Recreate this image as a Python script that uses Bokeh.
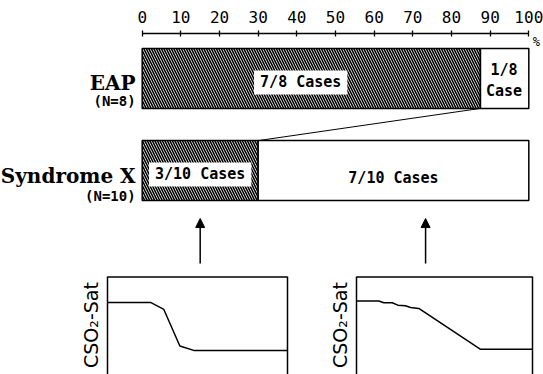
from bokeh.plotting import figure
from bokeh.models import Range1d, LinearAxis, FixedTicker, Label, Arrow, NormalHead, Span
from bokeh.layouts import column, row
from bokeh.embed import file_html
from bokeh.resources import INLINE
from bokeh.core.properties import value

# ---------------- data ----------------
groups = ["EAP", "Syndrome X"]
n_patients = [8, 10]
cases_hatched = [7, 3]          # cases in hatched segment
group_y = [1, 0]
tick_values = [0, 10, 20, 30, 40, 50, 60, 70, 80, 90, 100]

# CSO2-Sat traces (relative time %, relative saturation units)
t_left = [0, 23.9, 31.3, 40.2, 47.9, 100]
s_left = [73.9, 73.9, 66.7, 29.2, 24.7, 24.7]
t_right = [0, 12.7, 15.5, 20.3, 23.5, 27.8, 30.7, 35.4, 70.5, 100]
s_right = [75.3, 75.3, 73.5, 73.5, 71.1, 70.4, 68.7, 67.7, 25.8, 25.8]

pct = [c / n * 100 for c, n in zip(cases_hatched, n_patients)]
bar_h = 0.65
MONO = "DejaVu Sans Mono"

# ---------------- main figure ----------------
p = figure(width=543, height=275,
           x_range=Range1d(-36.65, 103.8), y_range=Range1d(-1.141, 1.489),
           x_axis_location="above", y_axis_location=None,
           output_backend="svg", toolbar_location=None,
           min_border_top=33, min_border_left=0, min_border_right=0, min_border_bottom=0,
           outline_line_color=None)
p.grid.visible = False
ax = p.xaxis[0]
ax.ticker = FixedTicker(ticks=tick_values)
ax.bounds = (0, 100)
ax.major_tick_in = 3
ax.major_tick_out = 3
ax.minor_tick_in = 0
ax.minor_tick_out = 0
ax.axis_line_width = 1.3
ax.major_tick_line_width = 1.3
ax.major_label_text_font = MONO
ax.major_label_text_font_size = "16px"
ax.major_label_standoff = 8
ax.major_label_text_color = "black"

# hatched segments
p.hbar(y=group_y, left=0, right=pct, height=bar_h,
       fill_color="white", hatch_pattern="\\", hatch_color="black",
       hatch_scale=5, hatch_weight=1.6, line_color="black", line_width=1.5)
# open segments
p.hbar(y=group_y, left=pct, right=100, height=bar_h,
       fill_color="white", line_color="black", line_width=1.5)

# connector from EAP hatched end to Syndrome X hatched end
p.segment(x0=[pct[0]], y0=[group_y[0] - bar_h / 2],
          x1=[pct[1]], y1=[group_y[1] + bar_h / 2],
          line_color="black", line_width=1)

# group labels
p.text(x=[-1.7, -1.7], y=[group_y[0] - 0.054, group_y[1] - 0.065], text=groups,
       text_align="right", text_baseline="middle",
       text_font=value("DejaVu Serif"), text_font_style="bold",
       text_font_size="20px", text_color="black")
p.text(x=[-1.7, -1.7], y=[group_y[0] - 0.25, group_y[1] - 0.272],
       text=[f"(N={n})" for n in n_patients],
       text_align="right", text_baseline="middle",
       text_font=value(MONO), text_font_style="bold",
       text_font_size="14px", text_color="black")

# in-bar labels
def add_label(x, y, txt, bg=False):
    kw = dict(x=x, y=y, text=txt, text_align="center", text_baseline="middle",
              text_font=MONO, text_font_size="15px", text_font_style="bold",
              text_color="black")
    if bg:
        kw.update(background_fill_color="white",
                  padding=dict(left=6, right=6, top=3, bottom=3))
    p.add_layout(Label(**kw))

add_label(41.0, group_y[0] - 0.043, f"{cases_hatched[0]}/{n_patients[0]} Cases", bg=True)
add_label(93.6, group_y[0] + 0.087, f"{n_patients[0]-cases_hatched[0]}/{n_patients[0]}")
add_label(93.6, group_y[0] - 0.141, "Case")
add_label(pct[1] / 2, group_y[1] - 0.043, f"{cases_hatched[1]}/{n_patients[1]} Cases", bg=True)
add_label((pct[1] + 100) / 2, group_y[1] - 0.076,
          f"{n_patients[1]-cases_hatched[1]}/{n_patients[1]} Cases")
p.add_layout(Label(x=101.0, y=1.40, text="%", text_align="left", text_baseline="middle",
                   text_font=MONO, text_font_size="12px", text_color="black"))

# arrows
arrow_x = [15, 73.3]
for xa in arrow_x:
    p.add_layout(Arrow(end=NormalHead(size=9, fill_color="black", line_color="black"),
                       x_start=xa, y_start=-1.011, x_end=xa, y_end=-0.522,
                       line_color="black", line_width=1.5))

# ---------------- small traces ----------------
def mini(t, s, width, left, right):
    f = figure(width=width, height=99, x_range=Range1d(0, 100), y_range=Range1d(0, 101.5),
               x_axis_location=None, y_axis_location=None,
               output_backend="svg", toolbar_location=None,
               min_border_left=left, min_border_right=right,
               min_border_top=0, min_border_bottom=0, outline_line_color=None)
    f.grid.visible = False
    f.line(t, s, line_color="black", line_width=1.5)
    f.add_layout(Span(location=100, dimension="width", line_color="black", line_width=1.5))
    for loc in ["left", "right"]:
        a = LinearAxis(ticker=FixedTicker(ticks=[]), major_tick_in=0, major_tick_out=0,
                       minor_tick_in=0, minor_tick_out=0, major_label_text_font_size="0px",
                       major_label_standoff=0, axis_line_width=1.5, axis_line_color="black",
                       bounds=(0, 100))
        if loc == "left":
            a.axis_label = "CSO\u2082-Sat"
            a.axis_label_text_font = "DejaVu Sans"
            a.axis_label_text_font_size = "19px"
            a.axis_label_text_font_style = "normal"
            a.axis_label_text_color = "black"
            a.axis_label_standoff = 6
        f.add_layout(a, loc)
    return f

m1 = mini(t_left, s_left, 300, 107, 13)
m2 = mini(t_right, s_right, 243, 56, 11)

layout = column(p, row(m1, m2, spacing=0), spacing=0)
open("out.html", "w").write(file_html(layout, INLINE))
